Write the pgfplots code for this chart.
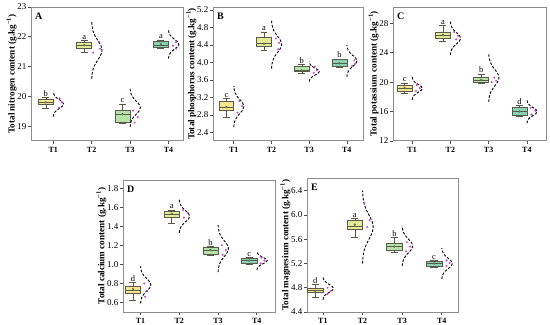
\documentclass[border=0pt]{standalone}
\usepackage{fontspec}
\setmainfont{Liberation Serif}
\usepackage{pgfplots}
\pgfplotsset{compat=1.18}
\usepgfplotslibrary{statistics}
\usepackage{pgfplotstable}

\definecolor{cT1}{HTML}{F4E58E}
\definecolor{cT2}{HTML}{E3EC96}
\definecolor{cT3}{HTML}{B3E3A6}
\definecolor{cT4}{HTML}{86D3B5}
\definecolor{boxedge}{HTML}{5A5A4A}
\definecolor{dotc}{HTML}{D040D0}
\definecolor{framec}{HTML}{8C8C8C}

% standard normal shape (z, relative density)
\pgfplotstableread{
z d
-3 0.0111
-2.5 0.0439
-2 0.1353
-1.5 0.3247
-1 0.6065
-0.5 0.8825
0 1
0.5 0.8825
1 0.6065
1.5 0.3247
2 0.1353
2.5 0.0439
3 0.0111
}\shapetab

\newcommand{\lab}{\fontsize{8.5}{9}\selectfont}
% box: pos, lw, q1, med, q3, uw, mean, colour, letter
\newcommand{\bx}[9]{%
 \addplot[boxplot prepared={draw direction=y, draw position=#1, lower whisker=#2, lower quartile=#3, median=#4, upper quartile=#5, upper whisker=#6, average=#7, box extend=0.39, whisker extend=0.18}, fill=#8, draw=boxedge, line width=0.5pt] coordinates {};
 \node[anchor=south, inner sep=0.8pt, font=\lab] at (axis cs:#1,#6) {#9};
}
% distribution curve: category, mean, sd
\newcommand{\dist}[3]{%
 \addplot[black, line width=0.9pt, dash pattern=on 2.6pt off 1.6pt, smooth] table[x expr={#1+0.27*\thisrow{d}}, y expr={#2+#3*\thisrow{z}}]{\shapetab};
}
\pgfplotsset{
 panel/.style={
  scale only axis,
  xtick={1,2,3,4}, xticklabels={T1,T2,T3,T4},
  tick align=outside, xtick pos=bottom, ytick pos=left,
  axis line style={draw=framec, line width=1pt},
  major tick length=3pt,
  tick style={draw=black!70, line width=0.6pt},
  minor tick num=0,
  /pgf/number format/assume math mode=true,
  yticklabel style={font=\fontsize{9}{10}\selectfont, inner xsep=1.5pt},
  xticklabel style={font=\fontsize{8}{9}\selectfont\bfseries},
  ylabel style={font=\fontsize{9.2}{10}\selectfont\bfseries, inner sep=0pt, yshift=-1pt},
  clip=false,
  boxplot/draw direction=y,
  boxplot/every average/.style={/tikz/mark=*, /tikz/mark size=0.9pt, /tikz/mark options={fill=red!85!orange, draw=red!70!black, solid}},
  boxplot/every median/.style={draw=boxedge, line width=0.6pt},
 },
 dec/.style={yticklabel style={/pgf/number format/fixed, /pgf/number format/fixed zerofill, /pgf/number format/precision=1}},
 dots/.style={only marks, mark=*, mark size=0.8pt, color=dotc},
}
\newcommand{\plab}[1]{\node[anchor=north west, font=\fontsize{10}{11}\selectfont\bfseries, inner sep=0pt] at (rel axis cs:0,1) [xshift=4pt, yshift=-6pt] {#1};}

\begin{document}
\begin{tikzpicture}
\useasboundingbox (0,0) rectangle (550bp,325bp);

% ---------- A ----------
\begin{axis}[panel, at={(31bp,184bp)}, anchor=south west, width=152bp, height=134bp,
  xmin=0.42, xmax=4.38, ymin=18.5, ymax=23, ytick={19,20,21,22,23},
  ylabel={Total nitrogen content (g.kg\textsuperscript{−1})}]
\bx{0.805}{19.6}{19.73}{19.8}{19.9}{19.96}{19.8}{cT1}{b}
\bx{1.805}{21.47}{21.6}{21.7}{21.83}{21.87}{21.72}{cT2}{a}
\bx{2.805}{19.1}{19.12}{19.38}{19.52}{19.75}{19.4}{cT3}{c}
\bx{3.805}{21.6}{21.64}{21.72}{21.84}{21.9}{21.75}{cT4}{a}
\dist{1}{19.74}{0.14}
\dist{2}{21.55}{0.32}
\dist{3}{19.62}{0.215}
\dist{4}{21.75}{0.16}
\addplot[dots] coordinates {(1.17,19.93) (1.22,19.8) (1.15,19.62)
 (2.18,21.83) (2.22,21.6) (2.04,21.47)
 (3.08,19.52) (3.2,19.3) (3.12,19.12)
 (4.2,21.82) (4.12,21.7) (4.2,21.6)};
\plab{A}
\end{axis}

% ---------- B ----------
\begin{axis}[panel, dec, at={(213bp,184bp)}, anchor=south west, width=150bp, height=134bp,
  xmin=0.45, xmax=4.43, ymin=2.2, ymax=5.27, ytick={2.4,2.8,3.2,3.6,4.0,4.4,4.8,5.2},
  ylabel={Total phosphorus content (g.kg\textsuperscript{−1})}]
\bx{0.805}{2.74}{2.91}{2.98}{3.1}{3.17}{2.98}{cT1}{c}
\bx{1.805}{4.28}{4.36}{4.43}{4.57}{4.7}{4.43}{cT2}{a}
\bx{2.805}{3.75}{3.79}{3.82}{3.92}{3.95}{3.82}{cT3}{b}
\bx{3.805}{3.9}{3.92}{3.97}{4.07}{4.08}{3.98}{cT4}{b}
\dist{1}{2.99}{0.157}
\dist{2}{4.415}{0.185}
\dist{3}{3.79}{0.077}
\dist{4}{4.035}{0.122}
\addplot[dots] coordinates {(1.15,3.12) (1.22,3.0) (1.1,2.85)
 (2.12,4.55) (2.2,4.45) (2.18,4.3)
 (3.15,3.9) (3.2,3.82) (3.12,3.76)
 (4.2,4.05) (4.22,3.97) (4.14,3.92)};
\plab{B}
\end{axis}

% ---------- C ----------
\begin{axis}[panel, at={(393bp,184bp)}, anchor=south west, width=153bp, height=134bp,
  xmin=0.5, xmax=4.5, ymin=12, ymax=30.2, ytick={12,16,20,24,28},
  ylabel={Total potassium content (g.kg\textsuperscript{−1})}]
\bx{0.805}{18.55}{18.8}{19.2}{19.6}{19.9}{19.2}{cT1}{c}
\bx{1.805}{25.5}{25.9}{26.3}{26.8}{27.7}{26.4}{cT2}{a}
\bx{2.805}{19.8}{20.0}{20.2}{20.6}{21.1}{20.3}{cT3}{b}
\bx{3.805}{15.3}{15.5}{16.0}{16.6}{16.8}{16.0}{cT4}{d}
\dist{1}{19.15}{0.52}
\dist{2}{25.95}{0.75}
\dist{3}{20.6}{1.1}
\dist{4}{16.0}{0.53}
\addplot[dots] coordinates {(1.12,19.6) (1.2,19.2) (1.1,18.8)
 (2.1,26.8) (2.2,26.3) (2.15,25.8)
 (3.15,20.6) (3.2,20.2) (3.08,20.0)
 (4.1,16.5) (4.22,16.1) (4.12,15.6)};
\plab{C}
\end{axis}

% ---------- D ----------
\begin{axis}[panel, dec, at={(123bp,13bp)}, anchor=south west, width=152bp, height=132bp,
  xmin=0.55, xmax=4.47, ymin=0.5, ymax=1.885, ytick={0.6,0.8,1.0,1.2,1.4,1.6,1.8},
  ylabel={Total calcium content (g.kg\textsuperscript{−1})}]
\bx{0.805}{0.62}{0.70}{0.73}{0.77}{0.81}{0.74}{cT1}{d}
\bx{1.805}{1.43}{1.49}{1.53}{1.56}{1.57}{1.53}{cT2}{a}
\bx{2.805}{1.10}{1.11}{1.15}{1.18}{1.19}{1.15}{cT3}{b}
\bx{3.805}{1.0}{1.01}{1.04}{1.06}{1.07}{1.04}{cT4}{c}
\dist{1}{0.785}{0.065}
\dist{2}{1.505}{0.058}
\dist{3}{1.165}{0.082}
\dist{4}{1.04}{0.033}
\addplot[dots] coordinates {(1.1,0.80) (1.18,0.72) (1.12,0.66)
 (2.1,1.57) (2.22,1.54) (2.12,1.49)
 (3.1,1.20) (3.2,1.15) (3.12,1.10)
 (4.12,1.07) (4.2,1.04) (4.1,1.01)};
\plab{D}
\end{axis}

% ---------- E ----------
\begin{axis}[panel, dec, at={(307bp,13bp)}, anchor=south west, width=151bp, height=134bp,
  xmin=0.6, xmax=4.41, ymin=4.4, ymax=6.61, ytick={4.4,4.8,5.2,5.6,6.0,6.4},
  ylabel={Total magnesium content (g.kg\textsuperscript{−1})}]
\bx{0.805}{4.65}{4.72}{4.75}{4.79}{4.85}{4.75}{cT1}{d}
\bx{1.805}{5.63}{5.76}{5.82}{5.91}{5.94}{5.84}{cT2}{a}
\bx{2.805}{5.38}{5.42}{5.48}{5.54}{5.63}{5.48}{cT3}{b}
\bx{3.805}{5.13}{5.16}{5.21}{5.24}{5.25}{5.2}{cT4}{c}
\dist{1}{4.79}{0.063}
\dist{2}{5.8}{0.2}
\dist{3}{5.49}{0.11}
\dist{4}{5.2}{0.085}
\addplot[dots] coordinates {(1.12,4.8) (1.2,4.75) (1.12,4.7)
 (2.05,6.2) (2.18,5.92) (2.12,5.8)
 (3.12,5.55) (3.2,5.48) (3.1,5.4)
 (4.12,5.25) (4.2,5.21) (4.12,5.16)};
\plab{E}
\end{axis}
\end{tikzpicture}
\end{document}
